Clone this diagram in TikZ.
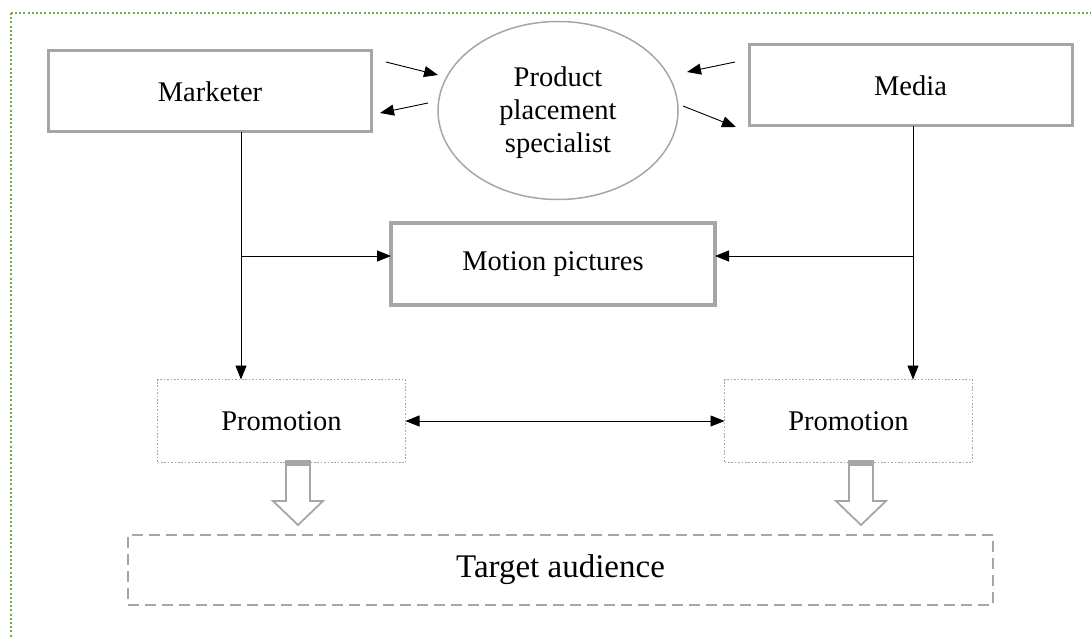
\documentclass[tikz,border=0pt]{standalone}
\usepackage{fontspec}
\setmainfont{Liberation Serif}
\usetikzlibrary{arrows.meta,shapes.geometric}
\definecolor{boxgray}{HTML}{A6A6A6}
\definecolor{framegreen}{HTML}{70AD47}
\tikzset{
  every node/.style={font=\fontsize{28.5}{33}\selectfont, inner sep=0pt, outer sep=0pt, align=center},
  solidbox/.style={draw=boxgray, line width=3pt, rectangle},
  motionbox/.style={draw=boxgray, line width=4.5pt, rectangle},
  ovalbox/.style={draw=boxgray, line width=1.5pt, ellipse},
  promobox/.style={draw=boxgray, line width=1.6pt, dash pattern=on 1.6pt off 1.8pt, rectangle},
  targetbox/.style={draw=boxgray, line width=2pt, dash pattern=on 11pt off 6pt, rectangle},
  arr/.style={draw=black, line width=0.9pt, -{Triangle[length=14pt,width=11pt]}},
  dblarr/.style={draw=black, line width=0.9pt, {Triangle[length=14pt,width=11pt]}-{Triangle[length=14pt,width=11pt]}},
  hollow/.style={draw=boxgray, line width=1.8pt, fill=white, line join=miter},
}
\begin{document}
\begin{tikzpicture}[x=1pt,y=-1pt]
\useasboundingbox (0,0) rectangle (1091,639);
\begin{scope}
\clip (0,0) rectangle (1091,639);
\draw[framegreen, line width=2pt, dash pattern=on 2pt off 2.2pt] (11,13) rectangle (1110,660);
\end{scope}

\node[solidbox, minimum width=323pt, minimum height=81pt] (marketer) at (210,91.5) {Marketer};
\node[solidbox, minimum width=323pt, minimum height=81pt] (media) at (910.5,85.5) {Media};
\node[ovalbox, minimum width=240pt, minimum height=178pt] (pps) at (558,110.5) {};
\node (ppstext) at (558,113) {Product\\placement\\specialist};
\node[motionbox, minimum width=324pt, minimum height=82pt] (motion) at (553,264) {Motion pictures};
\node[promobox, minimum width=248pt, minimum height=83pt] (promoL) at (281.5,421) {Promotion};
\node[promobox, minimum width=248pt, minimum height=83pt] (promoR) at (848.5,421) {Promotion};
\node[targetbox, minimum width=865pt, minimum height=70pt, font=\fontsize{33}{38}\selectfont] (target) at (560.5,570) {Target audience};

% short arrows around the specialist
\coordinate (a1s) at (386,62);  \coordinate (a1e) at (438,75);
\coordinate (a2s) at (428,103); \coordinate (a2e) at (380,113);
\coordinate (a3s) at (735,62);  \coordinate (a3e) at (687,72);
\coordinate (a4s) at (683,106); \coordinate (a4e) at (736,127);
\draw[arr] (a1s) -- (a1e);
\draw[arr] (a2s) -- (a2e);
\draw[arr] (a3s) -- (a3e);
\draw[arr] (a4s) -- (a4e);

% vertical trunks
\coordinate (mx) at (241,256);
\coordinate (dx) at (913,256);
\draw[arr] (mx |- marketer.south) -- (mx |- promoL.north);
\draw[arr] (mx) -- (motion.west |- mx);
\draw[arr] (dx |- media.south) -- (dx |- promoR.north);
\draw[arr] (dx) -- (motion.east |- dx);

% double arrow between promotions
\draw[dblarr] (promoL.east) -- (promoR.west);

% hollow block arrows
\coordinate (hl) at (298,461);
\coordinate (hr) at (861,461);
\foreach \c in {hl,hr}{
  \draw[hollow] ([xshift=-12pt]\c) -- ([xshift=12pt]\c) -- ([xshift=12pt,yshift=-40pt]\c) -- ([xshift=25pt,yshift=-40pt]\c)
     -- ([yshift=-64pt]\c) -- ([xshift=-25pt,yshift=-40pt]\c) -- ([xshift=-12pt,yshift=-40pt]\c) -- cycle;
  \fill[boxgray] ([xshift=-12.9pt,yshift=0.5pt]\c) rectangle ([xshift=12.9pt,yshift=-4.5pt]\c);
}
\end{tikzpicture}
\end{document}
